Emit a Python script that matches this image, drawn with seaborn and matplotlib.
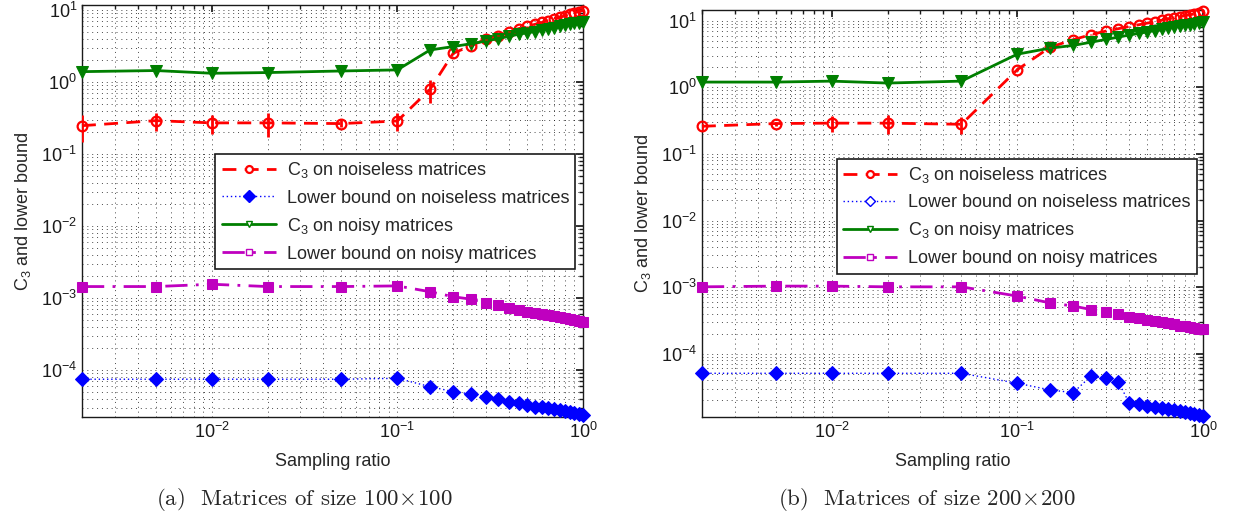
import numpy as np
import seaborn as sns
import matplotlib.pyplot as plt
from matplotlib.lines import Line2D

# sampling ratios (same grid for both panels)
ratio = [0.002, 0.005, 0.01, 0.02, 0.05, 0.1, 0.15, 0.2, 0.25, 0.3, 0.35, 0.4,
         0.45, 0.5, 0.55, 0.6, 0.65, 0.7, 0.75, 0.8, 0.85, 0.9, 0.95, 1.0]

# (a) 100x100
c3_clean_a = [0.247, 0.29, 0.27, 0.27, 0.264, 0.287, 0.79, 2.5, 3.2, 3.9, 4.4, 5.0,
              5.5, 5.9, 6.3, 6.7, 7.1, 7.5, 7.9, 8.3, 8.7, 9.1, 9.5, 9.8]
c3_clean_err_a = [0.1, 0.08, 0.08, 0.1, 0.03, 0.08, 0.28, 0.05, 0.03, 0.02, 0.02, 0.02,
                  0.02, 0.02, 0.02, 0.02, 0.02, 0.02, 0.02, 0.02, 0.02, 0.02, 0.02, 0.02]
lb_clean_a = [7.43e-5, 7.43e-5, 7.43e-5, 7.43e-5, 7.43e-5, 7.66e-5, 5.86e-5, 5.0e-5,
              4.64e-5, 4.18e-5, 3.92e-5, 3.63e-5, 3.44e-5, 3.26e-5, 3.09e-5, 3.03e-5,
              2.94e-5, 2.85e-5, 2.78e-5, 2.72e-5, 2.64e-5, 2.55e-5, 2.45e-5, 2.37e-5]
c3_noisy_a = [1.39, 1.44, 1.32, 1.35, 1.42, 1.47, 2.78, 3.1, 3.4, 3.7, 4.0, 4.3,
              4.6, 4.8, 5.0, 5.3, 5.5, 5.7, 5.9, 6.1, 6.3, 6.5, 6.65, 6.8]
lb_noisy_a = [1.44e-3, 1.44e-3, 1.55e-3, 1.44e-3, 1.44e-3, 1.47e-3, 1.22e-3, 1.04e-3,
              0.96e-3, 0.86e-3, 0.80e-3, 0.73e-3, 0.68e-3, 0.645e-3, 0.62e-3, 0.60e-3,
              0.58e-3, 0.56e-3, 0.54e-3, 0.52e-3, 0.51e-3, 0.495e-3, 0.48e-3, 0.46e-3]

# (b) 200x200
c3_clean_b = [0.26, 0.286, 0.29, 0.29, 0.279, 1.84, 4.0, 5.2, 6.2, 7.0, 7.6, 8.2,
              8.7, 9.2, 9.7, 10.2, 10.7, 11.1, 11.5, 11.9, 12.3, 12.7, 13.2, 13.8]
c3_clean_err_b = [0.03, 0.02, 0.08, 0.09, 0.08, 0.1, 0.05, 0.03, 0.03, 0.02, 0.02, 0.02,
                  0.02, 0.02, 0.02, 0.02, 0.02, 0.02, 0.02, 0.02, 0.02, 0.02, 0.02, 0.02]
lb_clean_b = [5.08e-5, 5.08e-5, 5.08e-5, 5.08e-5, 5.08e-5, 3.6e-5, 2.86e-5, 2.6e-5,
              4.64e-5, 4.28e-5, 3.8e-5, 1.84e-5, 1.74e-5, 1.66e-5, 1.6e-5, 1.55e-5,
              1.5e-5, 1.43e-5, 1.38e-5, 1.34e-5, 1.28e-5, 1.24e-5, 1.2e-5, 1.17e-5]
c3_noisy_b = [1.2, 1.2, 1.24, 1.16, 1.24, 3.15, 3.88, 4.26, 4.77, 5.24, 5.68, 6.1,
              6.45, 6.8, 7.1, 7.4, 7.7, 8.0, 8.25, 8.5, 8.75, 9.0, 9.25, 9.5]
lb_noisy_b = [1.01e-3, 1.035e-3, 1.035e-3, 1.01e-3, 1.01e-3, 0.733e-3, 0.58e-3, 0.52e-3,
              0.46e-3, 0.43e-3, 0.39e-3, 0.36e-3, 0.34e-3, 0.325e-3, 0.31e-3, 0.295e-3,
              0.285e-3, 0.275e-3, 0.265e-3, 0.257e-3, 0.25e-3, 0.244e-3, 0.238e-3, 0.232e-3]

labels = ["C$_3$ on noiseless matrices", "Lower bound on noiseless matrices",
          "C$_3$ on noisy matrices", "Lower bound on noisy matrices"]
captions = [r"(a)  Matrices of size $100\!\times\!100$", r"(b)  Matrices of size $200\!\times\!200$"]

sns.set_theme(style="white")
plt.rcParams["font.family"] = ["Liberation Sans", "DejaVu Sans"]
plt.rcParams["mathtext.fontset"] = "custom"
plt.rcParams["mathtext.rm"] = "Liberation Sans"
plt.rcParams["mathtext.it"] = "Liberation Sans:italic"
plt.rcParams["mathtext.cal"] = "Liberation Sans"

RED, BLUE, GREEN, MAG = "#ff0000", "#0000ff", "#007f00", "#bf00bf"

styles = [
    dict(color=RED, linestyle=(0, (5, 3)), lw=2, marker="o", markersize=7,
         markerfacecolor="none", markeredgecolor=RED, markeredgewidth=1.6),
    dict(color=BLUE, linestyle=(0, (1, 2)), lw=1.0, marker="D", markersize=7.2,
         markerfacecolor=BLUE, markeredgecolor=BLUE),
    dict(color=GREEN, linestyle="-", lw=2, marker="v", markersize=9,
         markerfacecolor=GREEN, markeredgecolor=GREEN),
    dict(color=MAG, linestyle=(0, (8, 3, 1, 3)), lw=2, marker="s", markersize=7.5,
         markerfacecolor=MAG, markeredgecolor=MAG),
]

fig = plt.figure(figsize=(12.33, 5.19), dpi=100)
ax_a = fig.add_axes([0.0665, 0.1965, 0.4063, 0.7938])
ax_b = fig.add_axes([0.5693, 0.1965, 0.4063, 0.7842])

panels = [
    (ax_a, [c3_clean_a, lb_clean_a, c3_noisy_a, lb_noisy_a], c3_clean_err_a,
     (2.22e-5, 11.7), (0.985, 0.638), False),
    (ax_b, [c3_clean_b, lb_clean_b, c3_noisy_b, lb_noisy_b], c3_clean_err_b,
     (1.12e-5, 14.5), (0.988, 0.634), True),
]

for ax, series, err, ylim, anchor, hollow in panels:
    ax.set_xscale("log")
    ax.set_yscale("log")
    for vals, lab, st in zip(series, labels, styles):
        sns.lineplot(x=ratio, y=vals, ax=ax, sort=False, label=lab, clip_on=False,
                     zorder=3, **st)
    ax.errorbar(ratio, series[0], yerr=err, fmt="none", ecolor=RED,
                elinewidth=2, capsize=0, zorder=3)
    ax.set_xlim(0.002, 1.0)
    ax.set_ylim(*ylim)
    ax.grid(True, which="both", color="k", linestyle=(0, (1, 4)), lw=0.7, alpha=0.8)
    ax.tick_params(which="both", direction="in", top=True, right=True,
                   labelsize=13, colors="k")
    ax.tick_params(which="major", length=5)
    ax.tick_params(which="minor", length=3)
    for sp in ax.spines.values():
        sp.set_color("k")
        sp.set_linewidth(1.0)
    ax.set_xlabel("Sampling ratio", fontsize=13, labelpad=8)
    ax.set_ylabel("C$_3$ and lower bound", fontsize=13, labelpad=6)

    handles = []
    for lab, st in zip(labels, styles):
        h = dict(st)
        h["markersize"] = 5
        if hollow or st["marker"] != "D":
            h["markerfacecolor"] = "white"
        else:
            h["markersize"] = 6
        handles.append(Line2D([], [], label=lab, **h))
    leg = ax.legend(handles=handles, loc="upper right", bbox_to_anchor=anchor,
                    fontsize=13, frameon=True, fancybox=False, framealpha=1,
                    edgecolor="k", handlelength=3.0, borderpad=0.35,
                    labelspacing=0.5, handletextpad=0.6, borderaxespad=0)
    leg.get_frame().set_linewidth(1.2)

for xpos, cap in zip([0.247, 0.752], captions):
    fig.text(xpos, 0.038, cap, ha="center", va="center", fontsize=16.5,
             family=["cmr10", "DejaVu Serif"], math_fontfamily="cm")

fig.savefig("out.png", dpi=100, facecolor="white")
